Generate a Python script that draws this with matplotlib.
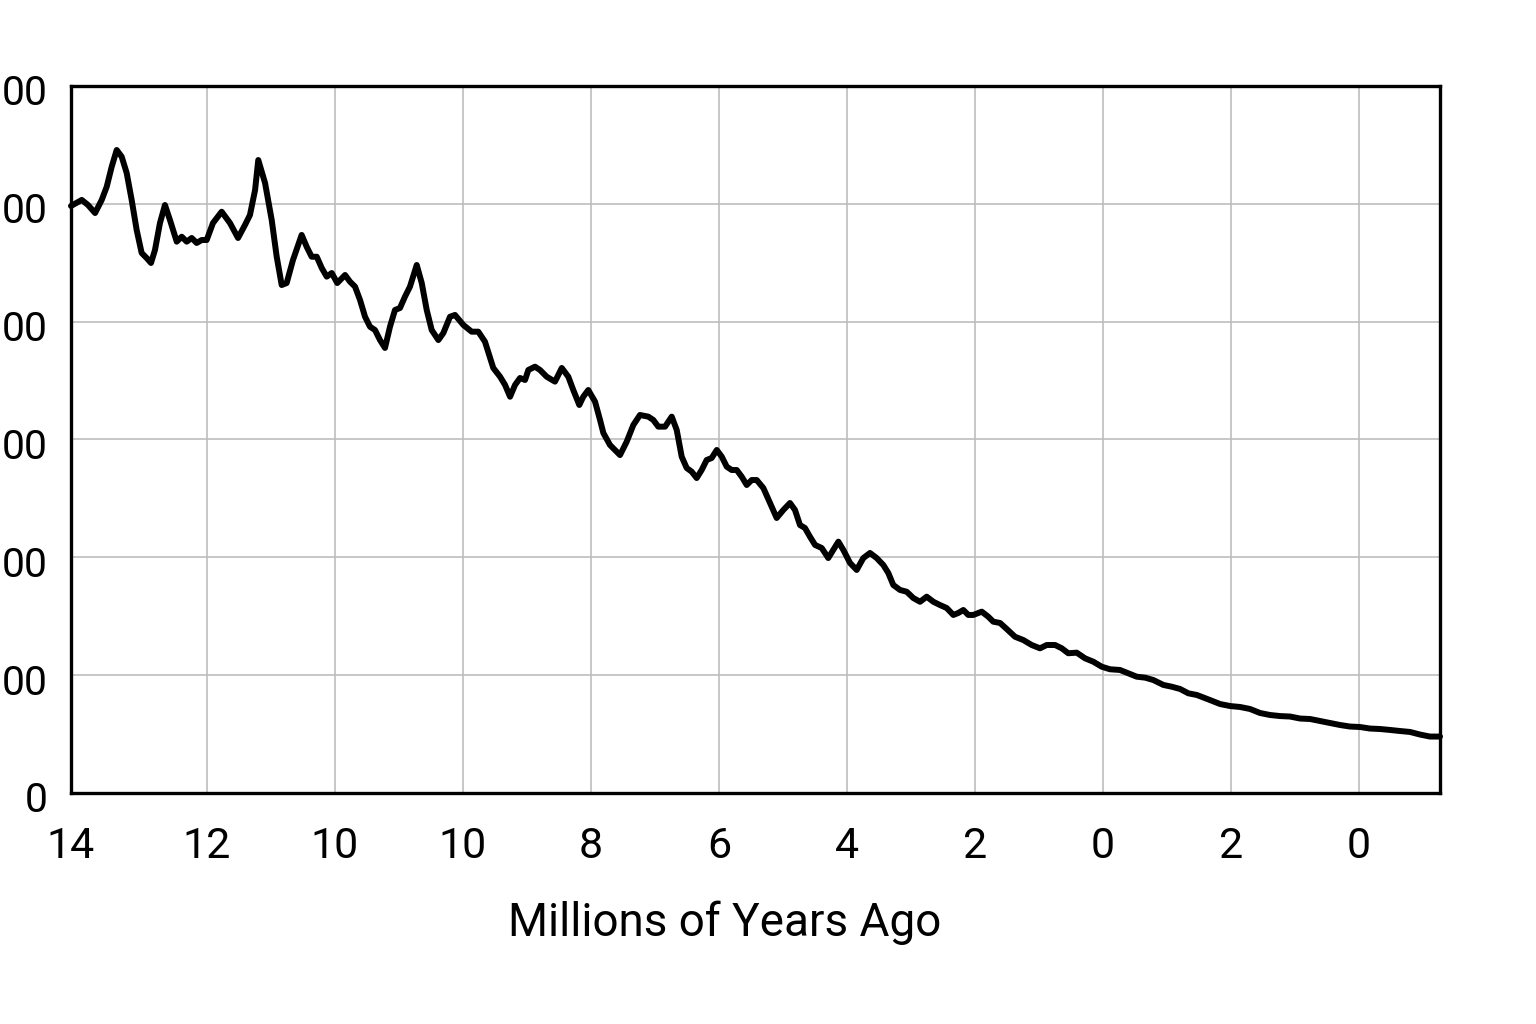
import matplotlib
matplotlib.use("Agg")
import matplotlib.pyplot as plt
from matplotlib.transforms import ScaledTranslation

# position along the axis (grid units) and value
x_pos = [0.0, 0.084, 0.133, 0.188, 0.24, 0.279, 0.318, 0.357, 0.396, 0.435,
         0.474, 0.513, 0.552, 0.591, 0.625, 0.656, 0.695, 0.734, 0.773, 0.826,
         0.865, 0.904, 0.943, 0.982, 1.021, 1.06, 1.109, 1.177, 1.242, 1.305,
         1.359, 1.398, 1.438, 1.463, 1.516, 1.568, 1.607, 1.646, 1.685, 1.734,
         1.802, 1.841, 1.88, 1.92, 1.959, 1.998, 2.037, 2.08, 2.141, 2.18,
         2.219, 2.258, 2.297, 2.336, 2.375, 2.414, 2.453, 2.492, 2.531, 2.57,
         2.609, 2.648, 2.701, 2.74, 2.779, 2.818, 2.87, 2.909, 2.961, 3.0,
         3.065, 3.13, 3.182, 3.234, 3.299, 3.352, 3.391, 3.43, 3.469, 3.508,
         3.547, 3.573, 3.625, 3.664, 3.716, 3.781, 3.834, 3.885, 3.924, 3.971,
         4.002, 4.041, 4.094, 4.133, 4.159, 4.211, 4.25, 4.289, 4.341, 4.393,
         4.445, 4.51, 4.549, 4.588, 4.641, 4.693, 4.732, 4.771, 4.81, 4.849,
         4.888, 4.927, 4.966, 5.005, 5.045, 5.084, 5.123, 5.162, 5.201, 5.24,
         5.279, 5.318, 5.357, 5.409, 5.461, 5.513, 5.565, 5.617, 5.656, 5.695,
         5.734, 5.773, 5.813, 5.865, 5.916, 5.955, 5.995, 6.034, 6.086, 6.138,
         6.19, 6.242, 6.294, 6.346, 6.385, 6.424, 6.477, 6.529, 6.58, 6.633,
         6.685, 6.737, 6.789, 6.841, 6.893, 6.932, 6.971, 7.01, 7.049, 7.115,
         7.166, 7.205, 7.258, 7.31, 7.375, 7.44, 7.505, 7.57, 7.623, 7.688,
         7.74, 7.791, 7.857, 7.922, 7.987, 8.052, 8.117, 8.195, 8.26, 8.326,
         8.391, 8.455, 8.534, 8.599, 8.664, 8.729, 8.795, 8.898, 8.977, 9.055,
         9.133, 9.211, 9.289, 9.367, 9.445, 9.523, 9.602, 9.68, 9.758, 9.836,
         9.914, 9.992, 10.07, 10.148, 10.227, 10.305, 10.383, 10.461, 10.539, 10.617,
         10.695]
values = [498.2, 503.3, 499.0, 492.2, 503.3, 514.5, 531.5, 545.7, 540.0, 526.2,
          503.3, 477.8, 458.3, 454.0, 449.8, 460.8, 483.7, 499.0, 486.3, 467.9,
          472.1, 467.9, 471.0, 466.8, 469.3, 469.3, 483.7, 493.3, 483.7, 471.0,
          482.0, 490.5, 511.7, 537.2, 517.7, 486.3, 455.1, 431.1, 432.8, 452.3,
          473.6, 463.6, 455.1, 455.1, 445.5, 438.2, 441.3, 432.8, 439.6, 433.9,
          429.7, 418.4, 404.2, 395.7, 392.9, 384.4, 377.7, 395.7, 409.9, 411.6,
          421.2, 429.7, 448.1, 432.8, 409.9, 392.9, 384.4, 390.4, 404.2, 405.7,
          397.2, 391.5, 391.5, 383.0, 360.7, 353.3, 346.3, 336.3, 346.3, 352.2,
          350.5, 359.0, 361.8, 359.0, 353.3, 349.1, 360.7, 353.3, 342.0, 329.3,
          336.3, 342.0, 332.1, 316.6, 305.5, 295.3, 291.1, 286.8, 298.1, 312.3,
          320.8, 319.4, 316.6, 310.9, 310.9, 319.4, 308.1, 285.4, 275.8, 272.7,
          267.3, 274.1, 282.6, 284.3, 291.1, 285.4, 276.9, 274.1, 274.1, 268.4,
          261.4, 265.6, 265.6, 258.8, 246.1, 233.4, 240.2, 246.1, 240.2, 227.4,
          224.9, 217.5, 210.5, 207.9, 199.4, 206.2, 213.3, 206.2, 195.2, 189.3,
          199.4, 203.7, 199.4, 193.5, 186.7, 176.5, 172.3, 170.8, 165.5, 162.3,
          166.6, 162.3, 159.5, 157.0, 151.1, 152.8, 155.3, 151.1, 151.1, 153.9,
          149.6, 145.4, 144.3, 139.2, 132.6, 129.8, 125.6, 122.8, 125.6, 125.6,
          122.8, 118.6, 119.1, 114.3, 111.4, 107.2, 105.0, 104.4, 101.6, 98.7,
          97.9, 95.9, 91.7, 90.2, 88.3, 84.6, 83.2, 78.9, 75.5, 73.8,
          73.0, 71.3, 67.9, 66.2, 65.3, 64.9, 63.2, 62.8, 61.1, 59.4,
          57.7, 56.4, 56.0, 54.7, 54.3, 53.5, 52.6, 51.8, 49.6, 47.9,
          47.9]

x_tick_pos = [0.0, 1.0625, 2.0625, 3.0625, 4.0625, 5.0625, 6.0625, 7.0625, 8.0625, 9.0625, 10.0625]
x_tick_labels = ["14", "12", "10", "10", "8", "6", "4", "2", "0", "2", "0"]
y_tick_pos = [0, 100, 200, 300, 400, 500, 600]
y_tick_labels = ["0", "00", "00", "00", "00", "00", "00"]
x_label = "Millions of Years Ago"

plt.rcParams['font.family'] = ['Roboto', 'DejaVu Sans']

fig = plt.figure(figsize=(15.36, 10.24), dpi=100)
ax = fig.add_axes([71/1536, 1 - 793/1024, (1440-71)/1536, (793-86)/1024])

ax.plot(x_pos, values, color="black", lw=4.3, solid_joinstyle="round",
        solid_capstyle="round", zorder=3, clip_on=False)

ax.set_xlim(0, 10.695)
ax.set_ylim(0, 600)
ax.set_xticks(x_tick_pos)
ax.set_xticklabels(x_tick_labels)
ax.set_yticks(y_tick_pos)
ax.set_yticklabels(y_tick_labels)
ax.tick_params(axis="x", length=0, labelsize=31, pad=24)
ax.tick_params(axis="y", length=0, labelsize=29.5, pad=17)
shift = ScaledTranslation(0, -4/100, fig.dpi_scale_trans)
for lab in ax.get_yticklabels():
    lab.set_transform(lab.get_transform() + shift)
ax.grid(True, color="#bdbdbd", lw=1.2)
ax.set_axisbelow(True)
for s in ax.spines.values():
    s.set_linewidth(2.4)
    s.set_color("black")
ax.set_xlabel(x_label, fontsize=33)
ax.xaxis.set_label_coords((725 - 71) / 1369, -0.152)

fig.savefig("out.png", dpi=100, facecolor="white")
